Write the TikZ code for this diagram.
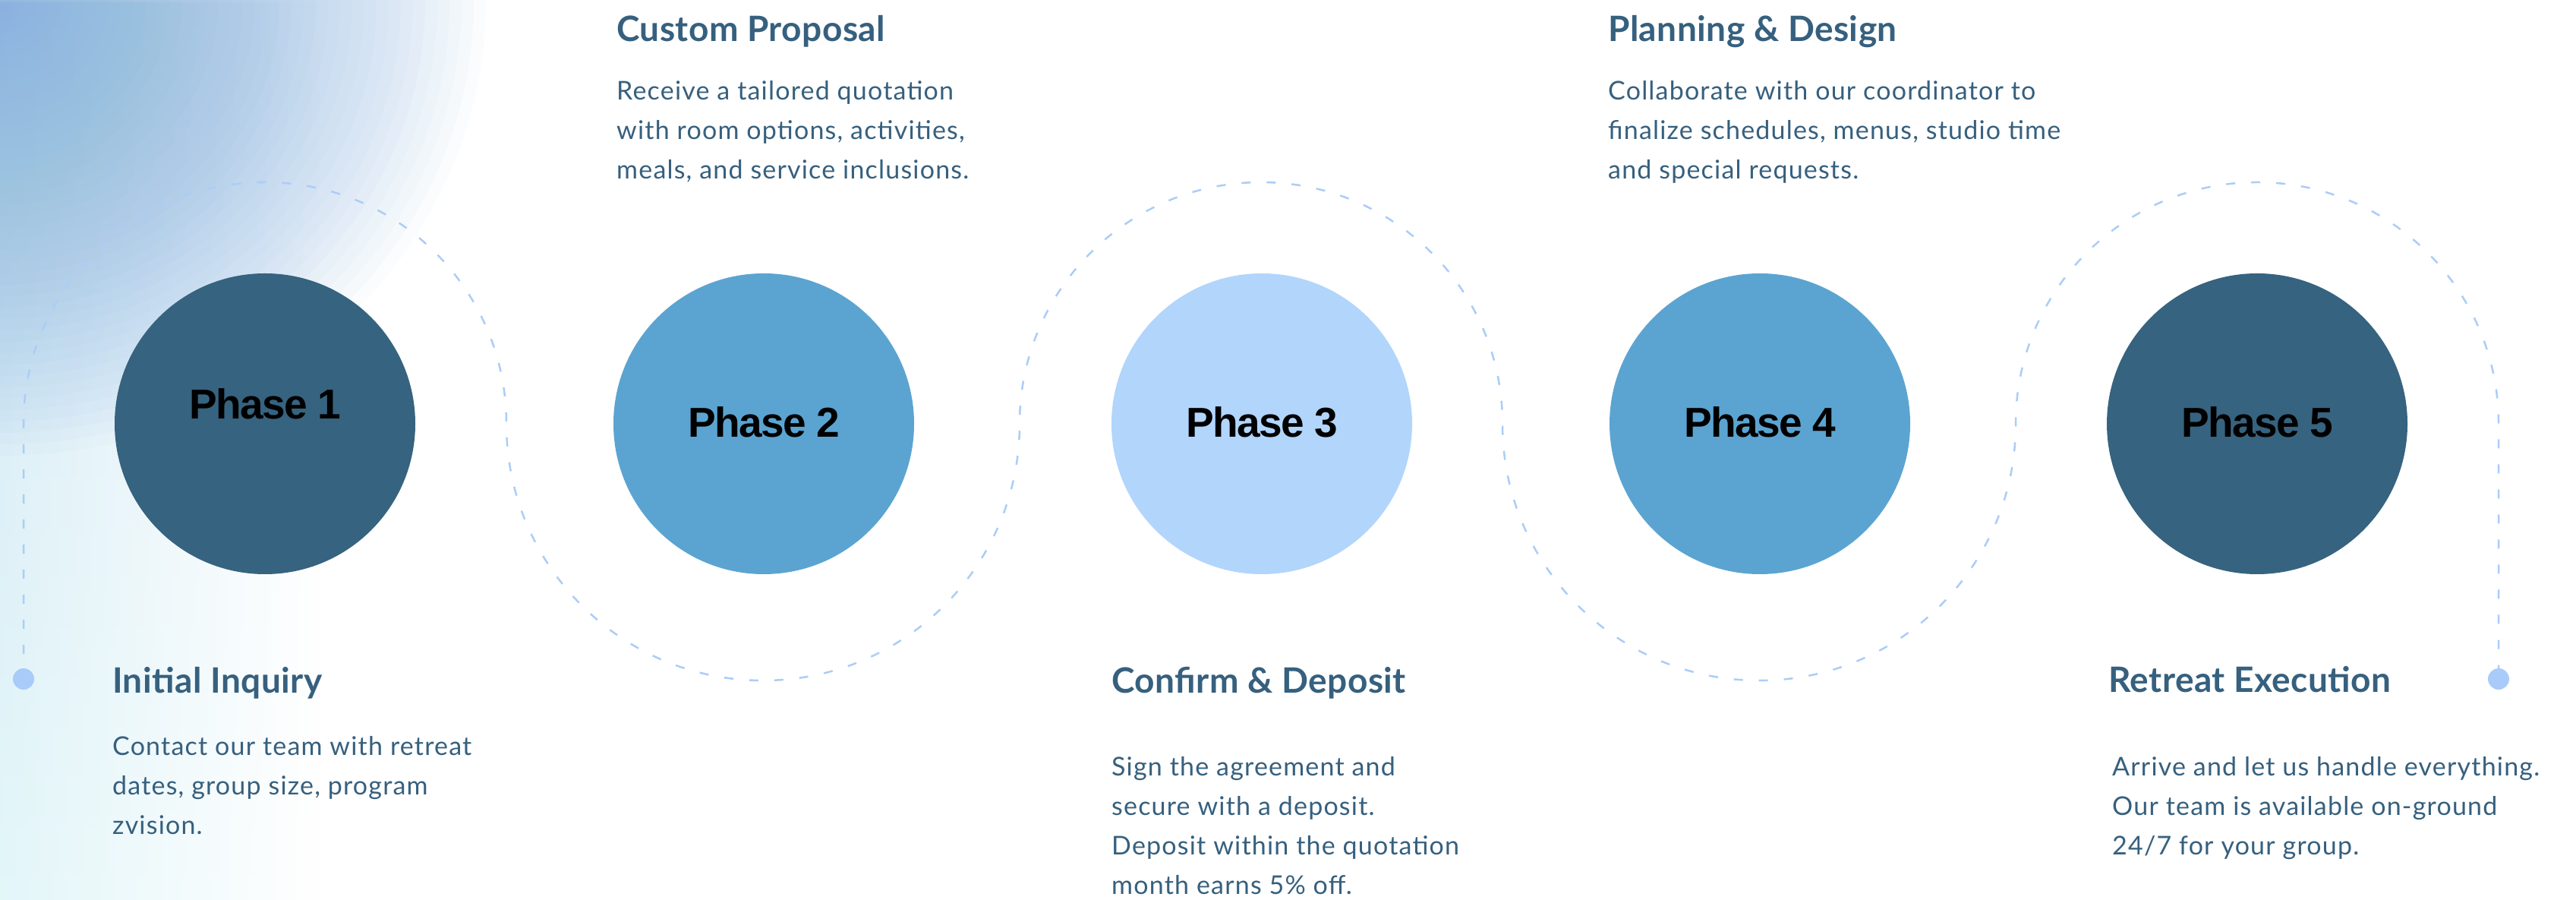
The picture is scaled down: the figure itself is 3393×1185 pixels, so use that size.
\documentclass[tikz,border=0pt]{standalone}
\usepackage{fontspec}
\setmainfont{Lato}
\newfontfamily\phasefont{Liberation Sans}[LetterSpace=-3]
\newfontfamily\bodyfont{Lato}[LetterSpace=3.5]
\newfontfamily\titlefont{Lato}[LetterSpace=1]
\usetikzlibrary{fadings}
\definecolor{darkc}{HTML}{36637F}
\definecolor{midc}{HTML}{5BA4D1}
\definecolor{lightc}{HTML}{B2D5FC}
\definecolor{txtblue}{HTML}{36607E}
\definecolor{dashc}{HTML}{ABCDF7}
\definecolor{dotc}{HTML}{A9CBFA}
\definecolor{glowA}{HTML}{7FB0DF}
\definecolor{stripTop}{HTML}{C6E0F1}
\definecolor{stripBot}{HTML}{D6F2F6}
\tikzfading[name=fadeRight, left color=transparent!0, right color=transparent!100]
\begin{document}
\begin{tikzpicture}[x=1pt,y=1pt,
  phase/.style={circle, inner sep=0pt, minimum size=396pt},
  phaselabel/.style={font=\phasefont\bfseries\fontsize{55}{60}\selectfont, text=black, inner sep=0pt},
  ttl/.style={anchor=base west, inner sep=0pt, text=txtblue, font=\titlefont\bfseries\fontsize{46}{50}\selectfont},
  bodytxt/.style={anchor=base west, inner sep=0pt, text=txtblue, font=\bodyfont\fontsize{34}{52}\selectfont},
  pathdash/.style={draw=dashc, line width=2.5pt, dash pattern=on 12pt off 21pt},
  enddot/.style={circle, fill=dotc, inner sep=0pt, minimum size=28pt}]
\useasboundingbox (0,0) rectangle (3393,1185);
\fill[white] (0,0) rectangle (3393,1185);
\begin{scope}
  \clip (0,0) rectangle (3393,1185);
  \shade[top color=stripTop, bottom color=stripBot, path fading=fadeRight] (-200,0) rectangle (420,1185);
  \foreach \r in {1,...,40} {
    \fill[glowA, opacity=0.035] (0,1185) ellipse [x radius=16*\r, y radius=15*\r];
  }
\end{scope}

% serpentine dashed connector
\coordinate (dLc) at (31,291);
\coordinate (dRc) at (3291,291);
\coordinate (a1s) at (31,627);
\draw[pathdash] (dLc) -- (a1s)
  arc[start angle=180, end angle=0, radius=318]
  arc[start angle=180, end angle=360, radius=338]
  arc[start angle=180, end angle=0, radius=318]
  arc[start angle=180, end angle=360, radius=338]
  arc[start angle=180, end angle=0, radius=318]
  -- (dRc);
\node[enddot] (dL) at (dLc) {};
\node[enddot] (dR) at (dRc) {};

% phase circles
\node[phase, fill=darkc] (c1) at (349,627) {};
\node[phase, fill=midc] (c2) at (1006,627) {};
\node[phase, fill=lightc] (c3) at (1662,627) {};
\node[phase, fill=midc] (c4) at (2318,627) {};
\node[phase, fill=darkc] (c5) at (2973,627) {};
\node[phaselabel] (t1) at (349,653) {Phase 1};
\node[phaselabel] (t2) at (1006,629) {Phase 2};
\node[phaselabel] (t3) at (1662,629) {Phase 3};
\node[phaselabel] (t4) at (2318,629) {Phase 4};
\node[phaselabel] (t5) at (2973,629) {Phase 5};

% texts
\node[ttl] (h1) at (148,272) {Initial Inquiry};
\node[bodytxt] (b1) at (148,190) {\begin{tabular}[t]{@{}l@{}}Contact our team with retreat\\ dates, group size, program\\ zvision.\end{tabular}};
\node[ttl] (h2) at (812,1130) {Custom Proposal};
\node[bodytxt] (b2) at (812,1053) {\begin{tabular}[t]{@{}l@{}}Receive a tailored quotation\\ with room options, activities,\\ meals, and service inclusions.\end{tabular}};
\node[ttl] (h3) at (1464,272) {Confirm \& Deposit};
\node[bodytxt] (b3) at (1464,163) {\begin{tabular}[t]{@{}l@{}}Sign the agreement and\\ secure with a deposit.\\ Deposit within the quotation\\ month earns 5\% off.\end{tabular}};
\node[ttl] (h4) at (2118,1130) {Planning \& Design};
\node[bodytxt] (b4) at (2118,1053) {\begin{tabular}[t]{@{}l@{}}Collaborate with our coordinator to\\ finalize schedules, menus, studio time\\ and special requests.\end{tabular}};
\node[ttl] (h5) at (2777,273) {Retreat Execution};
\node[bodytxt] (b5) at (2782,163) {\begin{tabular}[t]{@{}l@{}}Arrive and let us handle everything.\\ Our team is available on-ground\\ 24/7 for your group.\end{tabular}};
\end{tikzpicture}
\end{document}
